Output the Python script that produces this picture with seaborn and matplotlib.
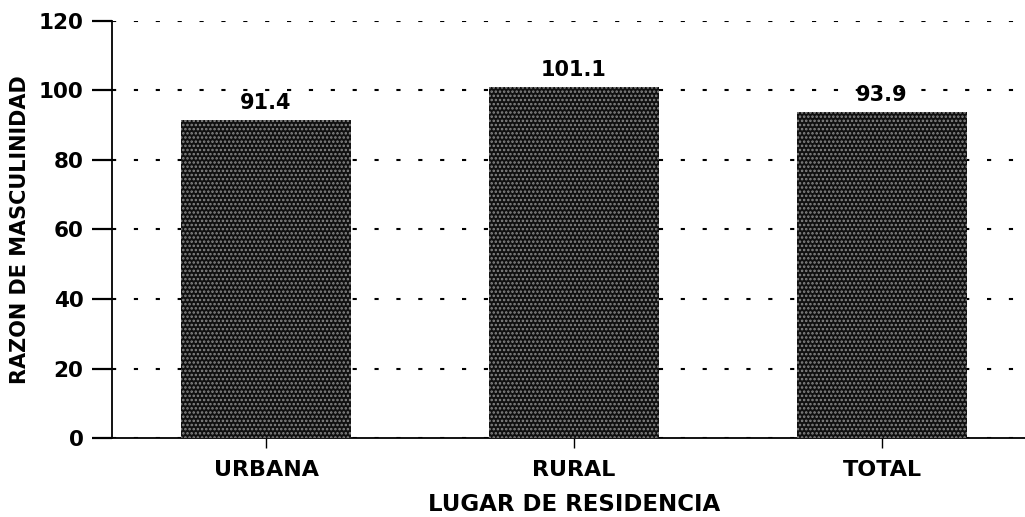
import matplotlib
matplotlib.use("Agg")
import matplotlib.pyplot as plt
import seaborn as sns
import pandas as pd

lugares = ["URBANA", "RURAL", "TOTAL"]
razon = [91.4, 101.1, 93.9]
y_ticks = [0, 20, 40, 60, 80, 100, 120]

df = pd.DataFrame({"lugar": lugares, "razon": razon})

sns.set_style("white")
plt.rcParams["font.family"] = ["DejaVu Sans"]
plt.rcParams["font.weight"] = "bold"
plt.rcParams["text.color"] = "black"
plt.rcParams["axes.labelcolor"] = "black"
plt.rcParams["xtick.color"] = "black"
plt.rcParams["ytick.color"] = "black"
plt.rcParams["hatch.linewidth"] = 1.2

fig = plt.figure(figsize=(10.25, 5.17), dpi=100)
ax = fig.add_axes([0.1093, 0.1528, 0.9015, 0.8066])

sns.barplot(x="lugar", y="razon", data=df, color="#101010", width=0.552,
            saturation=1, ax=ax, zorder=3)
for p in ax.patches:
    p.set_hatch("....")
    p.set_edgecolor("#888888")
    p.set_linewidth(0)
ax.bar_label(ax.containers[0], labels=[f"{v:.1f}" for v in razon],
             padding=5, fontsize=15, fontweight="bold", color="black")

ax.set_ylim(0, 120)
ax.set_xlim(-0.5, 2.5)
ax.set_yticks(y_ticks)
ax.yaxis.grid(True, linestyle=(0, (2, 8.5)), linewidth=1.5, color="black", zorder=0)
ax.xaxis.grid(False)
for s in ["top", "right"]:
    ax.spines[s].set_visible(False)
for s in ["left", "bottom"]:
    ax.spines[s].set_linewidth(1.3)
    ax.spines[s].set_color("black")
ax.tick_params(axis="y", direction="out", length=14.5, width=1.6, pad=6, labelsize=15.5, left=True)
ax.tick_params(axis="x", direction="out", length=7, width=1, pad=9, labelsize=16, bottom=True)
for t in ax.get_yticklabels() + ax.get_xticklabels():
    t.set_fontweight("bold")

ax.set_xlabel("LUGAR DE RESIDENCIA", fontsize=16.5, fontweight="bold", labelpad=9)
ax.set_ylabel("RAZON DE MASCULINIDAD", fontsize=15, fontweight="bold", labelpad=6)

fig.savefig("out.png", dpi=100)
